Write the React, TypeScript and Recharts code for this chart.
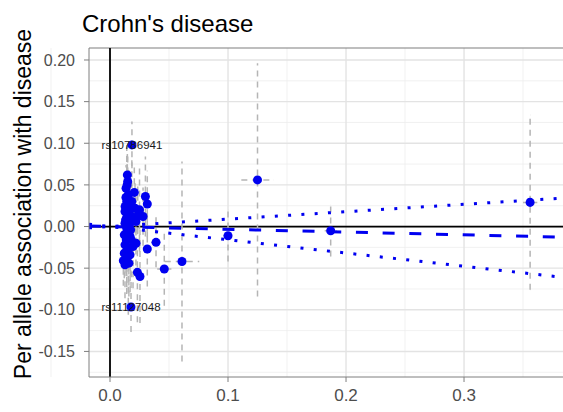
import React from 'react';
import {
  ComposedChart, Scatter, Line, XAxis, YAxis, CartesianGrid, ReferenceLine, ErrorBar, LabelList,
} from 'recharts';

// per-SNP association with exposure (x) and with Crohn's disease (y), plus error half-widths
const snpX = [
  0.0147, 0.0150, 0.0136, 0.0155, 0.0300, 0.0316, 0.0206, 0.0142, 0.0155, 0.0212,
  0.0127, 0.0170, 0.0235, 0.0142, 0.0190, 0.0280, 0.0127, 0.0220, 0.0165, 0.0142,
  0.0121, 0.0170, 0.0220, 0.0390, 0.0127, 0.0155, 0.0316, 0.0121, 0.0170, 0.0142,
  0.0113, 0.0127, 0.0232, 0.0254, 0.0460, 0.0610, 0.1000, 0.1250, 0.1870, 0.3560,
  0.0160, 0.0132, 0.0185, 0.0150, 0.0138, 0.0175, 0.0195, 0.0128, 0.0160, 0.0145,
  0.0250, 0.0180, 0.0135, 0.0158,
];
const snpY = [
  0.062, 0.054, 0.046, 0.038, 0.036, 0.027, 0.041, 0.030, 0.022, 0.022,
  0.018, 0.014, 0.013, 0.011, 0.010, 0.012, 0.004, 0.006, 0.002, -0.002,
  -0.010, -0.012, -0.020, -0.019, -0.022, -0.026, -0.027, -0.032, -0.034, -0.038,
  -0.041, -0.046, -0.055, -0.060, -0.051, -0.042, -0.011, 0.056, -0.005, 0.029,
  0.026, 0.008, 0.030, -0.006, -0.016, -0.004, -0.024, 0.024, -0.044, 0.050,
  0.020, -0.016, 0.035, 0.016,
];
const snpSeY = [
  0.035, 0.030, 0.028, 0.030, 0.048, 0.040, 0.030, 0.025, 0.028, 0.030,
  0.022, 0.030, 0.035, 0.092, 0.040, 0.035, 0.025, 0.030, 0.022, 0.025,
  0.030, 0.035, 0.040, 0.030, 0.030, 0.080, 0.045, 0.030, 0.045, 0.035,
  0.030, 0.040, 0.060, 0.056, 0.044, 0.120, 0.031, 0.140, 0.031, 0.105,
  0.045, 0.040, 0.050, 0.035, 0.040, 0.055, 0.050, 0.030, 0.040, 0.035,
  0.050, 0.045, 0.030, 0.040,
];
const snpSeX = [
  0.002, 0.002, 0.002, 0.002, 0.003, 0.003, 0.002, 0.002, 0.002, 0.002,
  0.002, 0.002, 0.003, 0.002, 0.002, 0.003, 0.002, 0.002, 0.002, 0.002,
  0.002, 0.002, 0.002, 0.004, 0.002, 0.002, 0.003, 0.002, 0.002, 0.002,
  0.002, 0.002, 0.003, 0.003, 0.006, 0.0146, 0.004, 0.0137, 0.005, 0.006,
  0.002, 0.002, 0.002, 0.002, 0.002, 0.002, 0.002, 0.002, 0.002, 0.002,
  0.003, 0.002, 0.002, 0.002,
];

const labelNames = ['rs10786941', 'rs11127048'];
const labelX = [0.0186, 0.0178];
const labelY = [0.098, -0.0966];
const labelSeY = [0.028, 0.03];
const labelSeX = [0.003, 0.003];

// fitted line through origin and its confidence bounds
const fitX = [-0.0178, 0.39];
const fitMid = [0.0006, -0.0129];
const fitUpper = [-0.0016, 0.0347];
const fitLower = [0.0028, -0.062];

const xTicks = [0, 0.1, 0.2, 0.3];
const yTicks = [-0.15, -0.1, -0.05, 0, 0.05, 0.1, 0.15, 0.2];
const xMinor = [-0.05, 0.05, 0.15, 0.25, 0.35];
const yMinor = [-0.175, -0.125, -0.075, -0.025, 0.025, 0.075, 0.125, 0.175];

const X_DOMAIN: [number, number] = [-0.0178, 0.3898];
const Y_DOMAIN: [number, number] = [-0.1807, 0.2144];

const BLUE = '#0000f0';
const FONT = '"Liberation Sans", Arial, sans-serif';

const points = snpX.map((x, i) => ({ x, y: snpY[i], ey: snpSeY[i], ex: snpSeX[i] }));
const labelled = labelX.map((x, i) => ({ x, y: labelY[i], ey: labelSeY[i], ex: labelSeX[i], name: labelNames[i] }));
const fitData = fitX.map((x, i) => ({ x, mid: fitMid[i], upper: fitUpper[i], lower: fitLower[i] }));

const NoShape = () => <g />;

export default function App() {
  return (
    <div style={{ position: 'absolute', left: 0, top: 0, width: 563, height: 412, overflow: 'hidden', background: '#fff' }}>
      <ComposedChart
        width={580}
        height={412}
        margin={{ top: 48, right: 10, bottom: 5, left: 0 }}
        style={{ position: 'absolute', left: 0, top: 0 }}
      >
        <CartesianGrid horizontalValues={yMinor} verticalValues={xMinor} stroke="#ededed" strokeWidth={0.8} />
        <CartesianGrid horizontalValues={yTicks} verticalValues={xTicks} stroke="#e3e3e3" strokeWidth={1.4} />
        <XAxis
          type="number"
          dataKey="x"
          domain={X_DOMAIN}
          ticks={xTicks}
          allowDataOverflow
          height={30}
          tickFormatter={(v: number) => v.toFixed(1)}
          tick={{ fontSize: 17, fill: '#4d4d4d', fontFamily: FONT }}
          stroke="#7f7f7f"
          tickSize={5}
          tickMargin={7}
        />
        <YAxis
          type="number"
          dataKey="y"
          domain={Y_DOMAIN}
          ticks={yTicks}
          allowDataOverflow
          width={89}
          tickFormatter={(v: number) => v.toFixed(2)}
          tick={{ fontSize: 16, fill: '#4d4d4d', fontFamily: FONT }}
          stroke="#7f7f7f"
          tickSize={5}
          tickMargin={9}
        />
        <ReferenceLine y={Y_DOMAIN[1]} stroke="#7f7f7f" strokeWidth={1.2} />
        <ReferenceLine x={0} stroke="#000" strokeWidth={1.8} />
        <ReferenceLine y={0} stroke="#000" strokeWidth={1.8} />
        <Scatter data={labelled} shape={NoShape} isAnimationActive={false}>
          <LabelList dataKey="name" position="center" fill="#1a1a1a" fontSize={11.5} fontFamily={FONT} />
        </Scatter>
        <Scatter data={[...points, ...labelled]} fill={BLUE} isAnimationActive={false}>
          <ErrorBar dataKey="ey" direction="y" width={0} stroke="#b5b5b5" strokeWidth={1.5} strokeDasharray="6 5" />
          <ErrorBar dataKey="ex" direction="x" width={0} stroke="#b5b5b5" strokeWidth={1.5} strokeDasharray="6 5" />
        </Scatter>
        <Line data={fitData} dataKey="mid" stroke={BLUE} strokeWidth={3} strokeDasharray="12 14.7" dot={false} activeDot={false} isAnimationActive={false} />
        <Line data={fitData} dataKey="upper" stroke={BLUE} strokeWidth={3} strokeDasharray="3 10.3" dot={false} activeDot={false} isAnimationActive={false} />
        <Line data={fitData} dataKey="lower" stroke={BLUE} strokeWidth={3} strokeDasharray="3 10.3" dot={false} activeDot={false} isAnimationActive={false} />
      </ComposedChart>
      <svg width={563} height={412} style={{ position: 'absolute', left: 0, top: 0, pointerEvents: 'none' }}>
        <text x={82} y={32} fontSize={24} fontFamily={FONT} fill="#000">Crohn's disease</text>
        <text
          transform="translate(31,204) rotate(-90)"
          textAnchor="middle"
          fontSize={23}
          fontFamily={FONT}
          fill="#000"
        >
          Per allele association with disease
        </text>
      </svg>
    </div>
  );
}
